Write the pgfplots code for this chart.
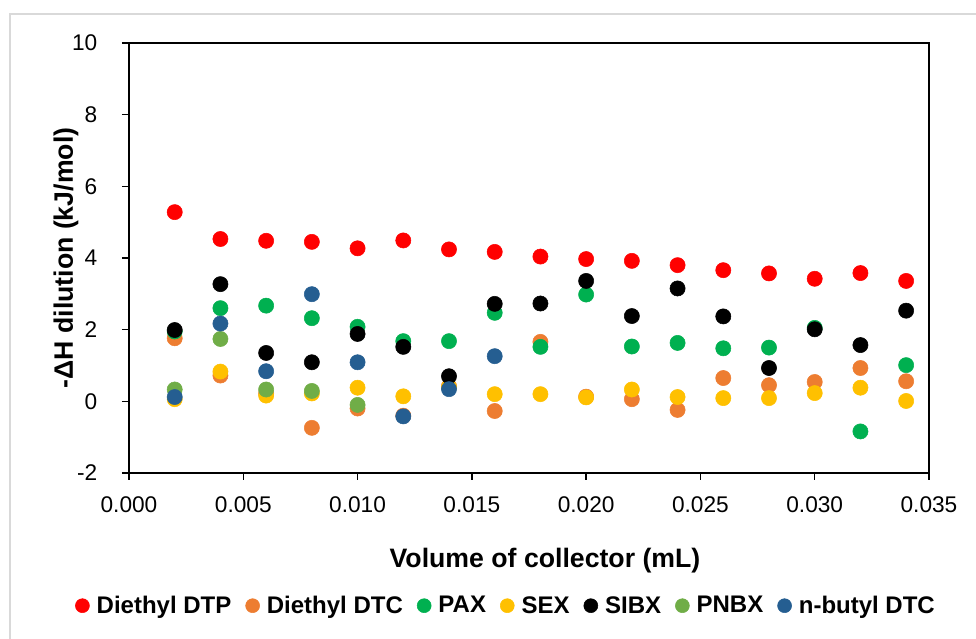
\documentclass[border=0pt]{standalone}
\usepackage{pgfplots}
\pgfplotsset{compat=1.18}
\usepackage{fontspec}
\setmainfont{Liberation Sans}
\definecolor{cDTP}{HTML}{FF0000}
\definecolor{cDTC}{HTML}{ED7D31}
\definecolor{cPAX}{HTML}{00B050}
\definecolor{cSEX}{HTML}{FFC000}
\definecolor{cSIBX}{HTML}{000000}
\definecolor{cPNBX}{HTML}{70AD47}
\definecolor{cNB}{HTML}{255E91}
\definecolor{frame}{HTML}{D9D9D9}
\newcommand{\tickfont}{\fontsize{17}{19}\selectfont}
\begin{document}
\begin{tikzpicture}
\begin{axis}[
  at={(0,0)}, anchor=south west,
  scale only axis, width=600pt, height=322.5pt,
  xmin=0, xmax=0.035, ymin=-2, ymax=10,
  xtick={0,0.005,0.01,0.015,0.02,0.025,0.03,0.035},
  ytick={-2,0,2,4,6,8,10},
  xticklabels={0.000,0.005,0.010,0.015,0.020,0.025,0.030,0.035},
  yticklabels={-2,0,2,4,6,8,10},
  scaled x ticks=false,
  /pgf/number format/assume math mode=true,
  xticklabel style={font=\tickfont, text=black, anchor=north, yshift=-9pt},
  yticklabel style={font=\tickfont, text=black, anchor=east, xshift=-15pt},
  axis line style={black, line width=1.1pt},
  tick style={black, line width=1.1pt},
  tick align=outside, major tick length=5.25pt,
  xtick pos=bottom, ytick pos=left,
  xlabel={Volume of collector (mL)},
  ylabel={-ΔH dilution (kJ/mol)},
  label style={font=\bfseries\fontsize{20}{22}\selectfont},
  xlabel style={at={(axis description cs:0.52,0)}, anchor=base, yshift=-70.7pt},
  ylabel style={at={(axis description cs:-0.0788,0.50)}, anchor=center},
  only marks,
  legend columns=7,
  legend style={draw=none, fill=none, at={(axis description cs:0.47,-0.3086)}, anchor=center,
    font=\bfseries\fontsize{18}{20}\selectfont,
    nodes={inner xsep=0pt, inner ysep=1pt},
    /tikz/every odd column/.append style={column sep=5.25pt},
    /tikz/every even column/.append style={column sep=10.5pt}},
  legend image code/.code={\fill (0pt,0pt) circle (5.25pt);},
]
\addplot[cDTP, mark=*, mark size=5.7pt, mark options={fill=cDTP, draw=none}] coordinates {
(0.002,5.28) (0.004,4.53) (0.006,4.48) (0.008,4.45) (0.010,4.27) (0.012,4.49)
(0.014,4.24) (0.016,4.17) (0.018,4.04) (0.020,3.97) (0.022,3.92) (0.024,3.80)
(0.026,3.66) (0.028,3.57) (0.030,3.42) (0.032,3.58) (0.034,3.36)};
\addlegendentry{Diethyl DTP}
\addplot[cDTC, mark=*, mark size=5.7pt, mark options={fill=cDTC, draw=none}] coordinates {
(0.002,1.76) (0.004,0.72) (0.006,0.22) (0.008,-0.74) (0.010,-0.20) (0.012,-0.40)
(0.014,0.42) (0.016,-0.27) (0.018,1.66) (0.020,0.13) (0.022,0.06) (0.024,-0.24)
(0.026,0.65) (0.028,0.45) (0.030,0.54) (0.032,0.93) (0.034,0.56)};
\addlegendentry{Diethyl DTC}
\addplot[cPAX, mark=*, mark size=5.7pt, mark options={fill=cPAX, draw=none}] coordinates {
(0.002,1.95) (0.004,2.60) (0.006,2.67) (0.008,2.32) (0.010,2.08) (0.012,1.68)
(0.014,1.68) (0.016,2.47) (0.018,1.52) (0.020,2.98) (0.022,1.53) (0.024,1.63)
(0.026,1.48) (0.028,1.50) (0.030,2.05) (0.032,-0.84) (0.034,1.01)};
\addlegendentry{PAX}
\addplot[cSEX, mark=*, mark size=5.7pt, mark options={fill=cSEX, draw=none}] coordinates {
(0.002,0.06) (0.004,0.83) (0.006,0.16) (0.008,0.22) (0.010,0.38) (0.012,0.14)
(0.014,0.40) (0.016,0.20) (0.018,0.20) (0.020,0.11) (0.022,0.33) (0.024,0.12)
(0.026,0.09) (0.028,0.09) (0.030,0.23) (0.032,0.38) (0.034,0.01)};
\addlegendentry{SEX}
\addplot[cSIBX, mark=*, mark size=5.7pt, mark options={fill=cSIBX, draw=none}] coordinates {
(0.002,1.99) (0.004,3.27) (0.006,1.35) (0.008,1.09) (0.010,1.88) (0.012,1.52)
(0.014,0.70) (0.016,2.72) (0.018,2.73) (0.020,3.36) (0.022,2.38) (0.024,3.15)
(0.026,2.37) (0.028,0.93) (0.030,2.01) (0.032,1.57) (0.034,2.53)};
\addlegendentry{SIBX}
\addplot[cPNBX, mark=*, mark size=5.7pt, mark options={fill=cPNBX, draw=none}] coordinates {
(0.002,0.33) (0.004,1.74) (0.006,0.33) (0.008,0.29) (0.010,-0.10)};
\addlegendentry{PNBX}
\addplot[cNB, mark=*, mark size=5.7pt, mark options={fill=cNB, draw=none}] coordinates {
(0.002,0.12) (0.004,2.17) (0.006,0.84) (0.008,2.99) (0.010,1.09) (0.012,-0.42)
(0.014,0.34) (0.016,1.26)};
\addlegendentry{n-butyl DTC}
\end{axis}
\draw[frame, line width=1.1pt] (-89.25pt,-124.5pt) -- (-89.25pt,344.25pt) -- (635.25pt,344.25pt);
\pgfresetboundingbox
\path[use as bounding box] (-96.75pt,-124.5pt) rectangle (635.25pt,354.75pt);
\end{tikzpicture}
\end{document}
